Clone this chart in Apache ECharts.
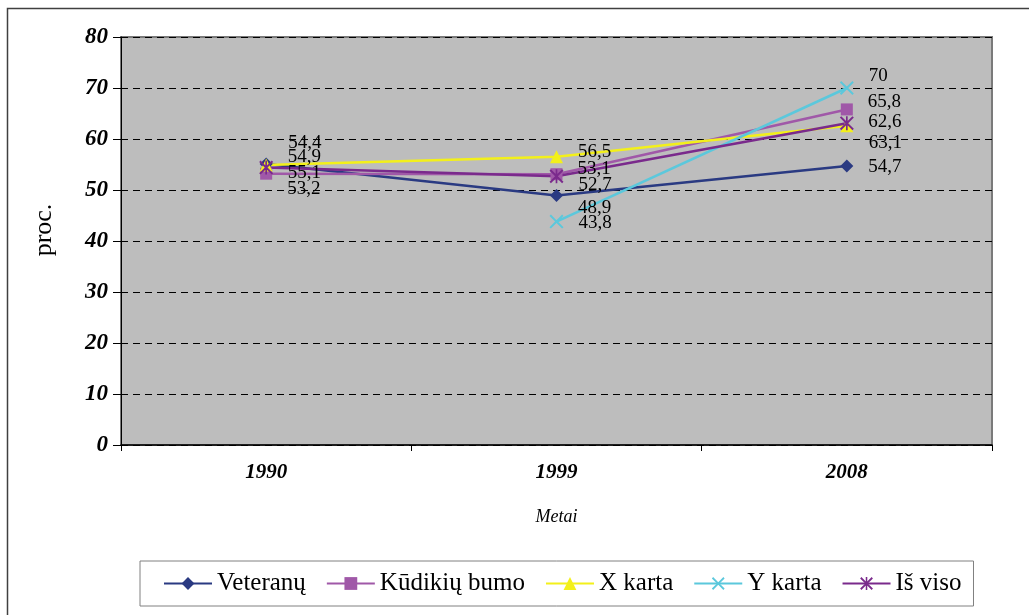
<!DOCTYPE html>
<html>
<head>
<meta charset="utf-8">
<title>Kartos</title>
<script src="https://cdn.jsdelivr.net/npm/echarts@6/dist/echarts.min.js"></script>
<style>
  html, body { margin: 0; padding: 0; background: #fff; }
  #chart { width: 1029px; height: 615px; }
</style>
</head>
<body>
<div id="chart"></div>
<script>
// metai (kategorijos)
var years = ["1990", "1999", "2008"];
var yTicks = [0, 10, 20, 30, 40, 50, 60, 70, 80];

// reikšmės, proc.
var veteranai = [55.1, 48.9, 54.7];
var kudikiai = [53.2, 53.1, 65.8];
var xKarta = [54.9, 56.5, 62.6];
var yKarta = [null, 43.8, 70];
var isViso = [54.4, 52.7, 63.1];

// etikečių vertikalūs poslinkiai (px), kad nesusiliptų kaip originale
var shiftVet = [9, 12, 1];
var shiftKud = [15, -5, -7];
var shiftX = [-8, -5, -4];
var shiftY = [0, 1, -12];
var shiftViso = [-25, 9, 20];

var serif = "Liberation Serif, Times New Roman, serif";

// X ir žvaigždutės simboliai
var crossPath = "path://M0,1 L1,0 L5,4 L9,0 L10,1 L6,5 L10,9 L9,10 L5,6 L1,10 L0,9 L4,5 Z";
var starPath = "path://M0,1 L1,0 L5,4 L9,0 L10,1 L6,5 L10,9 L9,10 L5,6 L1,10 L0,9 L4,5 Z M4.4,0 L5.6,0 L5.6,10 L4.4,10 Z";

function makeData(values, shifts) {
  return values.map(function (v, i) {
    if (v == null) return "-";
    return { value: v, label: { offset: [15, shifts[i]] } };
  });
}

function makeSeries(name, values, shifts, color, symbol, size) {
  return {
    name: name,
    type: "line",
    data: makeData(values, shifts),
    symbol: symbol,
    symbolSize: size,
    showAllSymbol: true,
    lineStyle: { color: color, width: 2.5 },
    itemStyle: { color: color },
    emphasis: { disabled: true },
    label: {
      show: true,
      position: "right",
      distance: 0,
      fontFamily: serif,
      fontSize: 19,
      color: "#000",
      formatter: function (p) {
        return String(p.value).replace(".", ",");
      }
    }
  };
}

var chart = echarts.init(document.getElementById("chart"));

chart.setOption({
  backgroundColor: "#fff",
  animation: false,
  graphic: [
    {
      type: "rect",
      shape: { x: 7.5, y: 8.5, width: 1100, height: 700 },
      style: { fill: "none", stroke: "#404040", lineWidth: 1.5 },
      silent: true
    }
  ],
  grid: {
    left: 121,
    right: 37,
    top: 37,
    bottom: 170,
    show: true,
    backgroundColor: "#bdbdbd",
    borderColor: "#7a7a7a",
    borderWidth: 2
  },
  legend: {
    left: 140,
    top: 561,
    padding: [10, 12, 10, 23],
    borderColor: "#808080",
    borderWidth: 1,
    itemWidth: 48,
    itemHeight: 16,
    itemGap: 20,
    textStyle: { fontFamily: serif, fontSize: 25, color: "#000" },
    data: ["Veteranų", "Kūdikių bumo", "X karta", "Y karta", "Iš viso"]
  },
  xAxis: {
    type: "category",
    data: years,
    boundaryGap: true,
    name: "Metai",
    nameLocation: "middle",
    nameGap: 63,
    nameTextStyle: { fontFamily: serif, fontStyle: "italic", fontSize: 18, color: "#000" },
    axisLine: { lineStyle: { color: "#000", width: 1.5 } },
    axisTick: { show: true, length: 6, lineStyle: { color: "#000" } },
    axisLabel: {
      margin: 17,
      fontFamily: serif,
      fontStyle: "italic",
      fontWeight: "bold",
      fontSize: 21,
      color: "#000"
    },
    splitLine: { show: false }
  },
  yAxis: {
    type: "value",
    min: 0,
    max: 80,
    interval: 10,
    name: "proc.",
    nameLocation: "middle",
    nameGap: 64,
    nameTextStyle: { fontFamily: serif, fontSize: 26, color: "#000", padding: [0, 0, 0, 22] },
    axisLine: { show: true, lineStyle: { color: "#000", width: 1 } },
    axisTick: { show: true, length: 8, lineStyle: { color: "#000" } },
    axisLabel: {
      margin: 13,
      fontFamily: serif,
      fontStyle: "italic",
      fontWeight: "bold",
      fontSize: 23,
      color: "#000",
      formatter: function (v) {
        return yTicks.indexOf(v) >= 0 ? String(v) : "";
      }
    },
    splitLine: {
      show: true,
      lineStyle: { color: "#000", width: 1, type: [7, 5] }
    }
  },
  series: [
    makeSeries("Veteranų", veteranai, shiftVet, "#2a3a82", "diamond", 13),
    makeSeries("Kūdikių bumo", kudikiai, shiftKud, "#a058a8", "rect", 12),
    makeSeries("X karta", xKarta, shiftX, "#f3f01a", "triangle", 13),
    makeSeries("Y karta", yKarta, shiftY, "#5bc8dc", crossPath, 14),
    makeSeries("Iš viso", isViso, shiftViso, "#7a2a8c", starPath, 14)
  ]
});
</script>
</body>
</html>
